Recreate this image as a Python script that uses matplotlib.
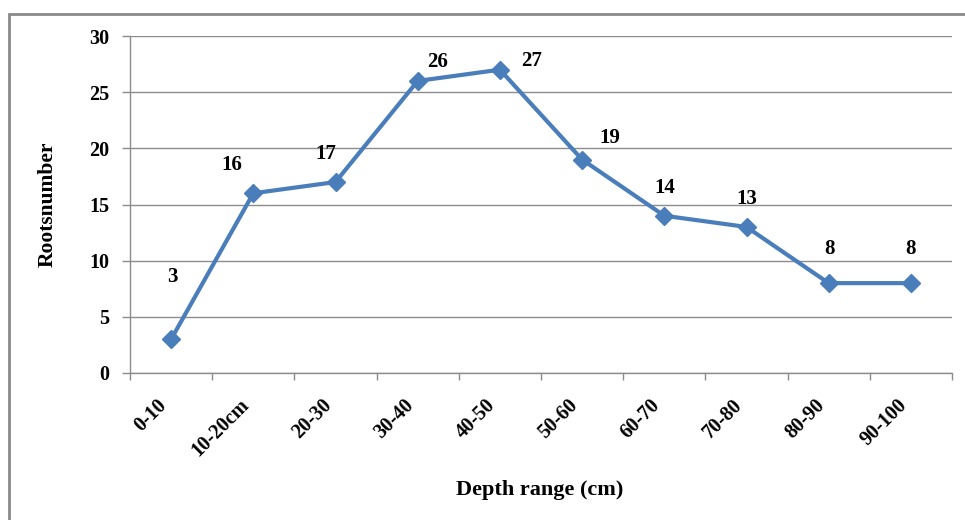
import matplotlib.pyplot as plt
from matplotlib.patches import Rectangle

depth = ['0-10', '10-20cm', '20-30', '30-40', '40-50', '50-60',
         '60-70', '70-80', '80-90', '90-100']
roots = [3, 16, 17, 26, 27, 19, 14, 13, 8, 8]
# label offsets in pixels (dx, dy)
lab_off = [(1, 62), (-21, 28), (-10, 28), (20, 19), (32, 9), (28, 22),
           (0, 28), (0, 28), (1, 34), (0, 34)]

plt.rcParams['font.family'] = ['Liberation Serif', 'DejaVu Serif']
plt.rcParams['font.weight'] = 'bold'

fig = plt.figure(figsize=(9.65, 5.2), dpi=100)
ax = fig.add_axes([130 / 965, 1 - 373 / 520, 822 / 965, 337 / 520])

x = list(range(len(depth)))
ax.plot(x, roots, color='#4a7ebb', lw=3, marker='D', ms=9,
        markerfacecolor='#4a7ebb', markeredgecolor='#4a7ebb', zorder=3)

for xi, v, (dx, dy) in zip(x, roots, lab_off):
    ax.annotate(str(v), (xi, v), xytext=(dx * 0.72, dy * 0.72),
                textcoords='offset points', ha='center', va='center',
                fontsize=15, fontweight='bold')

ax.set_xlim(-0.5, len(depth) - 0.5)
ax.set_ylim(0, 30)
ax.set_yticks(range(0, 31, 5))
ax.yaxis.grid(True, color='#8c8c8c', lw=1)
ax.set_axisbelow(True)

ax.set_xticks(x)
ax.set_xticklabels(depth, rotation=45, ha='right', fontsize=14.5, fontweight='bold')
ax.set_xticks([i - 0.5 for i in range(len(depth) + 1)], minor=True)
ax.tick_params(axis='x', which='major', length=0, pad=16)
ax.tick_params(axis='x', which='minor', length=5, color='#8c8c8c', width=1)
ax.tick_params(axis='y', length=6, color='#8c8c8c', width=1, pad=9, labelsize=14.5)
for lbl in ax.get_yticklabels():
    lbl.set_fontweight('bold')

for s in ['top', 'right']:
    ax.spines[s].set_visible(False)
for s in ['left', 'bottom']:
    ax.spines[s].set_color('#8c8c8c')
    ax.spines[s].set_linewidth(1)

ax.set_ylabel('Rootsnumber', fontsize=15.5, fontweight='bold')
ax.yaxis.set_label_coords((48 - 130) / 822, 0.5)
ax.set_xlabel('Depth range (cm)', fontsize=16, fontweight='bold')
ax.xaxis.set_label_coords((540 - 130) / 822, -(490 - 373) / 337)
ax.xaxis.label.set_va('center')
ax.yaxis.label.set_va('center')

fig.patches.append(Rectangle((9 / 965, -0.1), 1.2, 1.1 - 14 / 520,
                             transform=fig.transFigure, fill=False,
                             edgecolor='#8a8a8a', lw=2, clip_on=False))

fig.savefig('out.png', dpi=100)
